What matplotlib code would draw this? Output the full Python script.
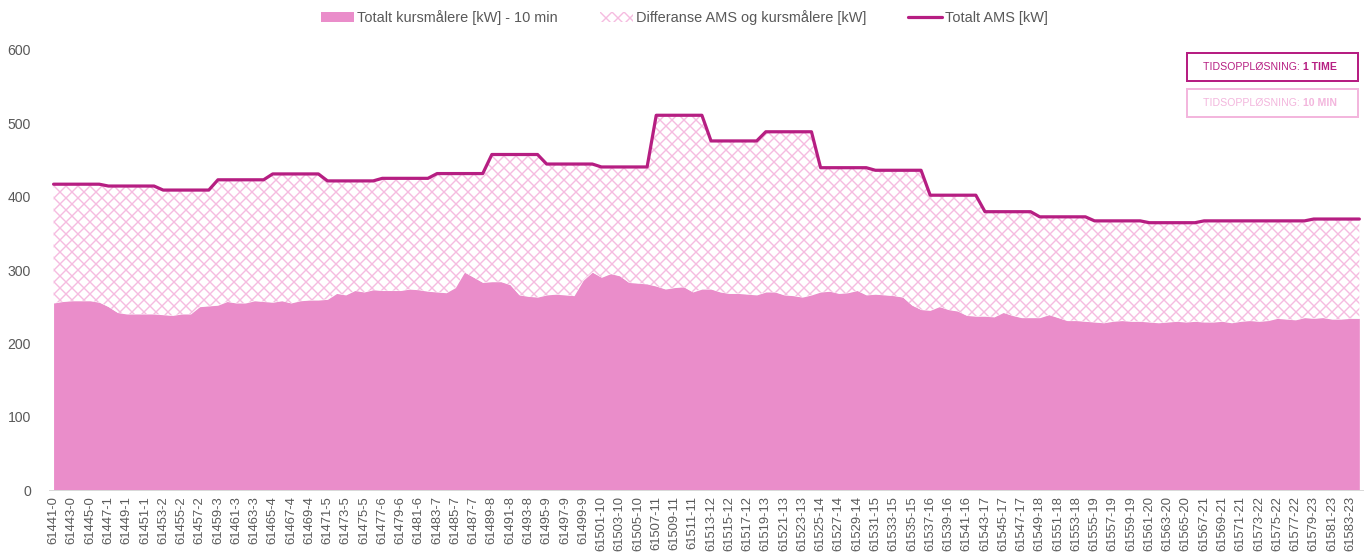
import numpy as np
import matplotlib
matplotlib.use("Agg")
import matplotlib.pyplot as plt
from matplotlib.patches import Rectangle

# --- data -----------------------------------------------------------------
# 10 min resolution, 144 points (one day)
meter_ids = list(range(61441, 61585))
hours = [i // 6 for i in range(len(meter_ids))]
categories = [f"{m}-{h}" for m, h in zip(meter_ids, hours)]

# Totalt kursmålere [kW] - 10 min
kurs_10min = [
    255, 257, 258, 258, 258, 256, 250, 242, 240, 240, 240, 240,
    239, 238, 240, 240, 250, 251, 252, 257, 255, 255, 258, 257,
    256, 258, 255, 258, 259, 259, 260, 268, 266, 272, 270, 273,
    272, 272, 272, 274, 273, 271, 270, 269, 276, 297, 290, 283,
    284, 284, 280, 266, 264, 263, 266, 267, 266, 265, 286, 297,
    290, 295, 292, 283, 282, 281, 278, 274, 276, 277, 270, 274,
    274, 270, 268, 268, 267, 266, 270, 270, 266, 265, 263, 266,
    270, 271, 268, 269, 272, 266, 267, 266, 265, 263, 252, 246,
    245, 250, 246, 244, 238, 237, 237, 236, 242, 238, 235, 235,
    235, 239, 235, 231, 231, 230, 229, 228, 230, 231, 230, 230,
    229, 228, 229, 230, 229, 230, 229, 229, 230, 228, 230, 231,
    230, 231, 234, 233, 232, 235, 234, 235, 233, 233, 234, 234,
]

# Totalt AMS [kW] - hourly values
ams_hourly = [417, 414.5, 409, 423, 431, 421.5, 425, 431.5, 457.5, 444.5, 440.5, 511,
              476, 488.5, 439.5, 436, 402, 379.5, 372.5, 367, 364.5, 367, 367, 369.5]

yticks = [0, 100, 200, 300, 400, 500, 600]

# --- style ----------------------------------------------------------------
fill_col = "#EA8DCA"
hatch_col = "#F5BCE0"
line_col = "#B61E82"
text_col = "#595959"

plt.rcParams["font.family"] = ["Liberation Sans", "DejaVu Sans"]
plt.rcParams["hatch.linewidth"] = 1.4

DPI = 72
fig = plt.figure(figsize=(1368 / DPI, 560 / DPI), dpi=DPI)
ax = fig.add_axes([49 / 1368, 1 - 490 / 560, (1363 - 49) / 1368, (490 - 50) / 560])

x = np.arange(len(kurs_10min))
kurs = np.array(kurs_10min)
ams = np.repeat(ams_hourly, 6)

ax.fill_between(x, 0, kurs, color=fill_col, lw=0, label="Totalt kursmålere [kW] - 10 min")
ax.fill_between(x, kurs, ams, facecolor="white", edgecolor=hatch_col, hatch="xx", lw=0,
                label="Differanse AMS og kursmålere [kW]")
ax.plot(x, ams, color=line_col, lw=3.2, solid_joinstyle="round", solid_capstyle="round",
        label="Totalt AMS [kW]")

ax.set_xlim(-0.5, len(x) - 0.6)
ax.set_ylim(0, 600)
ax.set_yticks(yticks)
ax.set_yticklabels([str(v) for v in yticks], fontsize=14, color=text_col)
ax.set_xticks(x[::2])
ax.set_xticklabels(categories[::2], rotation=90, fontsize=13, color=text_col)
ax.tick_params(axis="both", length=0)
ax.tick_params(axis="y", pad=18)
ax.tick_params(axis="x", pad=6)

for side in ["top", "right", "left"]:
    ax.spines[side].set_visible(False)
ax.spines["bottom"].set_color("#D9D9D9")
ax.spines["bottom"].set_linewidth(1)

leg = fig.legend(loc="center", bbox_to_anchor=(0.5, 1 - 18 / 560), ncol=3, frameon=False,
                 fontsize=14.5, handlelength=2.3, handleheight=0.7, handletextpad=0.2,
                 columnspacing=2.9, labelcolor=text_col)

# resolution boxes on the right
boxes = [
    (53, line_col, "1 TIME"),
    (89, "#F3B6DD", "10 MIN"),
]
for top, col, value in boxes:
    x0, x1 = 1187, 1358
    y0, y1 = top, top + 28
    rect = Rectangle((x0 / 1368, 1 - y1 / 560), (x1 - x0) / 1368, (y1 - y0) / 560,
                     transform=fig.transFigure, fill=False, edgecolor=col, lw=2)
    fig.add_artist(rect)
    yc = 1 - (y0 + y1) / 2 / 560
    fig.text(1303 / 1368, yc, "TIDSOPPLØSNING: ", ha="right", va="center",
             fontsize=10.5, color=col)
    fig.text(1303 / 1368, yc, value, ha="left", va="center", fontsize=10.5,
             color=col, fontweight="bold")

fig.savefig("out.png", dpi=DPI)
